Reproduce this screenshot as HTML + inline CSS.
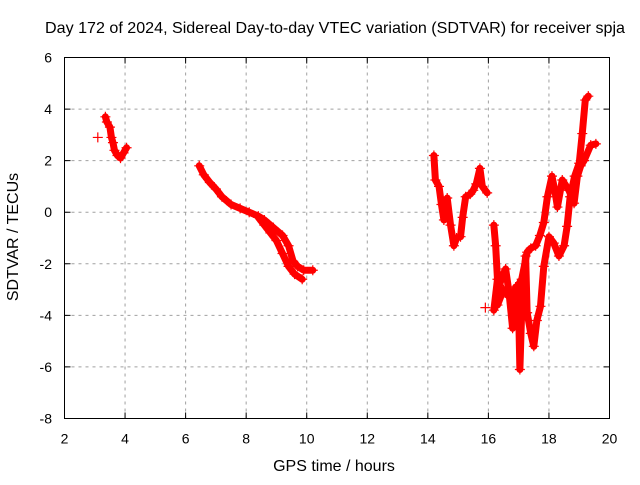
<!DOCTYPE html>
<html><head><meta charset="utf-8"><style>
body{margin:0;background:#fff}
svg text{font-family:"Liberation Sans",sans-serif;fill:#000}
</style></head><body>
<svg id="chart" width="640" height="480">
<rect width="640" height="480" fill="#fff"/>
<g id="grid"></g>
<g id="series"></g>
<rect x="64.5" y="57.5" width="545" height="361" fill="none" stroke="#000"/>
<g id="ticks"></g>
<text x="335" y="33" font-size="16" text-anchor="middle" textLength="580" lengthAdjust="spacingAndGlyphs">Day 172 of 2024, Sidereal Day-to-day VTEC variation (SDTVAR) for receiver spja</text>
<text x="334" y="471" font-size="16" text-anchor="middle">GPS time / hours</text>
<text x="18" y="237" font-size="16" text-anchor="middle" transform="rotate(-90 18 237)">SDTVAR / TECUs</text>
</svg>
<script>
const xTicks=[2,4,6,8,10,12,14,16,18,20];
const yTicks=[-8,-6,-4,-2,0,2,4,6];
const segA=[[3.35,3.7],[3.4,3.5],[3.5,3.3],[3.55,2.9],[3.6,2.7],[3.65,2.4],[3.75,2.2],[3.85,2.1],[3.95,2.3],[4.05,2.5]];
const segSingle=[[3.1,2.9],[15.9,-3.7]];
const segB1=[[6.45,1.8],[6.6,1.45],[6.8,1.15],[7.0,0.9],[7.2,0.6],[7.5,0.3],[7.8,0.15],[8.1,0.0],[8.4,-0.15],[8.6,-0.3],[8.9,-0.6],[9.2,-0.9],[9.4,-1.3],[9.55,-1.9],[9.7,-2.1],[9.9,-2.25],[10.2,-2.25]];
const segB2=[[8.4,-0.2],[8.6,-0.5],[8.8,-0.8],[9.0,-1.1],[9.2,-1.6],[9.4,-2.1],[9.6,-2.4],[9.85,-2.6]];
const segC1=[[14.2,2.2],[14.25,1.25],[14.37,1.0],[14.45,0.3],[14.53,-0.3],[14.64,0.55],[14.75,-0.5],[14.86,-1.3],[14.95,-1.0],[15.08,-0.95],[15.15,-0.2],[15.25,0.6],[15.4,0.7],[15.5,0.85],[15.6,1.1],[15.72,1.7],[15.8,1.0],[15.96,0.75]];
const segC2=[[16.18,-0.5],[16.24,-1.3],[16.3,-2.6],[16.18,-3.8],[16.3,-3.1],[16.45,-2.5],[16.57,-2.2],[16.68,-3.1],[16.8,-4.5],[16.9,-2.9],[17.0,-3.9],[17.04,-6.1],[17.12,-3.1],[17.23,-1.7],[17.28,-3.9],[17.4,-4.7],[17.5,-5.2],[17.6,-4.2],[17.72,-3.65],[17.83,-2.1],[18.0,-0.95],[18.16,-1.2],[18.33,-1.7],[18.5,-1.3],[18.6,-0.55],[18.7,0.6],[18.85,1.4],[19.0,1.9],[19.1,3.05],[19.2,4.35],[19.3,4.5]];
const segC3=[[16.3,-3.6],[16.5,-3.0],[16.7,-3.3],[16.9,-3.0],[17.1,-2.6],[17.28,-1.55],[17.4,-1.4],[17.56,-1.3],[17.7,-0.9],[17.83,-0.4],[17.95,0.6],[18.1,1.4],[18.2,0.8],[18.28,0.2],[18.44,1.25],[18.66,0.85],[18.83,0.35],[18.94,1.4],[19.05,1.8],[19.16,2.0],[19.38,2.6],[19.55,2.65]];
const segs=[segA,segB1,segB2,segC1,segC2,segC3];
const X0=64.5,X1=609.5,Y0=418.5,Y1=57.5;
const sx=v=>X0+(v-2)/18*(X1-X0);
const sy=v=>Y0-(v+8)/14*(Y0-Y1);
const NS="http://www.w3.org/2000/svg";
const grid=document.getElementById('grid'),ticks=document.getElementById('ticks'),ser=document.getElementById('series');
function mk(tag,at,parent){const e=document.createElementNS(NS,tag);for(const k in at)e.setAttribute(k,at[k]);parent.appendChild(e);return e;}
xTicks.forEach(t=>{const x=sx(t);
 if(t>2&&t<20){const g=mk('line',{x1:x,x2:x,y1:Y0,y2:Y1,stroke:'#a0a0a0','stroke-dasharray':'3,4'},grid);
 
 }
 const tk=mk('path',{d:`M${x} ${Y0}v-6M${x} ${Y1}v6`,stroke:'#000'},ticks);
 
 
 const l=mk('text',{x:x,y:Y0+25,'font-size':14,'text-anchor':'middle'},ticks);l.textContent=t;
 
 });
yTicks.forEach(t=>{const y=sy(t);
 if(t>-8&&t<6){const g=mk('line',{x1:X0,x2:X1,y1:y,y2:y,stroke:'#a0a0a0','stroke-dasharray':'3,4'},grid);
 
 }
 const tk=mk('path',{d:`M${X0} ${y}h6M${X1} ${y}h-6`,stroke:'#000'},ticks);
 
 
 const l=mk('text',{x:52,y:y+5,'font-size':14,'text-anchor':'end'},ticks);l.textContent=t;
 
 });
segs.forEach(s=>{const pl=mk('polyline',{points:s.map(p=>sx(p[0])+','+sy(p[1])).join(' '),fill:'none',stroke:'#f00','stroke-width':7,'stroke-linejoin':'round','stroke-linecap':'round'},ser);
 
 });
segs.concat([segSingle]).forEach(s=>s.forEach(p=>{const x=sx(p[0]),y=sy(p[1]);
 const m=mk('path',{d:`M${x-5} ${y}h10M${x} ${y-5}v10`,stroke:'#f00','stroke-width':1.2},ser);
 
 }));
</script>
</body></html>
